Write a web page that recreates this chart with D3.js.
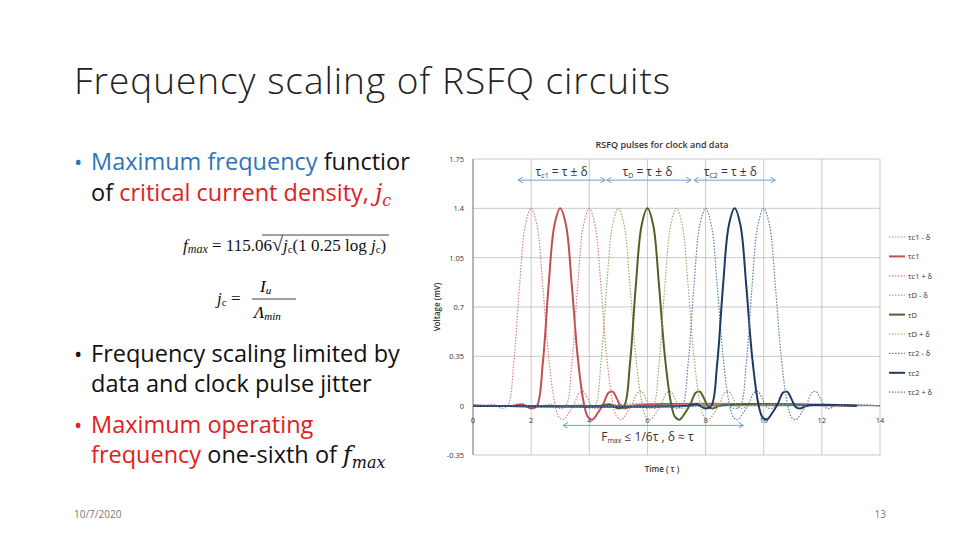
<!DOCTYPE html>
<html><head><meta charset="utf-8">
<script src="https://cdn.jsdelivr.net/npm/d3@7"></script>
<style>body{margin:0;background:#fff}svg{font-family:"Open Sans",sans-serif}</style>
</head><body><svg id="s" width="960" height="540"></svg>
<script>
// pulse profile: offset from peak (τ) and voltage (mV)
const pulseOffsets = [-1.6,-1.3,-1.0,-0.8,-0.6,-0.4,-0.2,0,0.2,0.4,0.6,0.8,0.95,1.1,1.3,1.5,1.65,1.8,1.95,2.1,2.25,2.5];
const pulseValues  = [0,0.01,-0.02,0,0.3,0.85,1.28,1.4,1.28,0.85,0.35,0.03,-0.08,-0.1,-0.05,0.02,0.09,0.1,0.05,-0.01,-0.02,0];
const seriesNames = ["τc1 - δ","τc1","τc1 + δ","τD - δ","τD","τD + δ","τc2 - δ","τc2","τc2 + δ"];
const seriesPeaks = [2,3,4,5,6,7,8,9,10];
const seriesColors = ["#d9827f","#c0504d","#d9827f","#98ad6b","#4f6228","#98ad6b","#5b7fae","#1f3864","#5b7fae"];
const seriesSolid = [false,true,false,false,true,false,false,true,false];
const xTicks = [0,2,4,6,8,10,12,14];
const yTicks = [-0.35,0,0.35,0.7,1.05,1.4,1.75];

const svg = d3.select("#s");
svg.append("text").attr("x",74).attr("y",94).attr("font-size",37).attr("fill","#222").attr("font-weight",300)
  .attr("textLength",596).text("Frequency scaling of RSFQ circuits");

// bullets
const bl = [
 {y:170,parts:[["Maximum frequency","#2e75b6"],[" functior","#111"]],dot:"#2e75b6"},
 {y:201,parts:[["of ","#111"],["critical current density, ","#e0201b"]],jc:true},
 {y:362,parts:[["Frequency scaling limited by","#111"]],dot:"#111"},
 {y:392,parts:[["data and clock pulse jitter","#111"]]},
 {y:433,parts:[["Maximum operating","#e0201b"]],dot:"#e0201b"},
 {y:463,parts:[["frequency","#e0201b"],[" one-sixth of ","#111"]],fmax:true}
];
bl.forEach(b=>{
  if(b.dot) svg.append("text").attr("x",74).attr("y",b.y).attr("font-size",22).attr("fill",b.dot).text("•");
  const t = svg.append("text").attr("x",91).attr("y",b.y).attr("font-size",23.5);
  b.parts.forEach(p=>t.append("tspan").attr("fill",p[1]).text(p[0]));
  if(b.jc) t.append("tspan").attr("fill","#e0201b").attr("font-family","DejaVu Serif").attr("font-style","italic").text("j").append("tspan").attr("font-size",16).attr("dy",5).text("c");
  if(b.fmax) t.append("tspan").attr("fill","#111").attr("font-family","DejaVu Serif").attr("font-style","italic").text("f").append("tspan").attr("font-size",16).attr("dy",5).text("max");
});
// formulas
const f1 = svg.append("text").attr("x",183).attr("y",251).attr("font-family","Liberation Serif").attr("font-size",17).attr("fill","#111");
f1.append("tspan").attr("font-style","italic").text("f");
f1.append("tspan").attr("font-style","italic").attr("font-size",12).attr("dy",2).text("max");
f1.append("tspan").attr("dy",-2).text(" = 115.06");
f1.append("tspan").text("√").attr("font-size",20);
f1.append("tspan").attr("font-style","italic").text("j");
f1.append("tspan").attr("font-size",11).attr("dy",2).text("c");
f1.append("tspan").attr("dy",-2).text("(1     0.25 log ");
f1.append("tspan").attr("font-style","italic").text("j");
f1.append("tspan").attr("font-size",11).attr("dy",2).text("c");
f1.append("tspan").attr("dy",-2).text(")");
svg.append("line").attr("x1",262).attr("x2",389).attr("y1",235).attr("y2",235).attr("stroke","#111").attr("stroke-width",0.8);
const f2 = svg.append("text").attr("x",217).attr("y",304).attr("font-family","Liberation Serif").attr("font-size",17).attr("fill","#111");
f2.append("tspan").attr("font-style","italic").text("j");
f2.append("tspan").attr("font-size",11).attr("dy",2).text("c");
f2.append("tspan").attr("dy",-2).text(" = ");
svg.append("text").attr("x",260).attr("y",292).attr("font-family","Liberation Serif").attr("font-style","italic").attr("font-size",17).text("I").append("tspan").attr("font-size",11).attr("dy",2).text("u");
svg.append("line").attr("x1",252).attr("x2",296).attr("y1",299).attr("y2",299).attr("stroke","#111").attr("stroke-width",0.8);
svg.append("text").attr("x",254).attr("y",318).attr("font-family","Liberation Serif").attr("font-style","italic").attr("font-size",17).text("Λ").append("tspan").attr("font-size",11).attr("dy",2).text("min");

// chart
const x = d3.scaleLinear().domain([0,14]).range([473,880]);
const y = d3.scaleLinear().domain([-0.35,1.75]).range([455,159]);
const g = svg.append("g");
g.append("g").selectAll("line").data(xTicks).join("line")
  .attr("x1",d=>x(d)).attr("x2",d=>x(d)).attr("y1",y(1.75)).attr("y2",y(-0.35)).attr("stroke","#bbb").attr("stroke-width",0.8);
g.append("g").selectAll("line").data(yTicks).join("line")
  .attr("x1",x(0)).attr("x2",x(14)).attr("y1",d=>y(d)).attr("y2",d=>y(d)).attr("stroke","#bbb").attr("stroke-width",0.8);
g.append("line").attr("x1",x(0)).attr("x2",x(14)).attr("y1",y(0)).attr("y2",y(0)).attr("stroke","#888");
g.append("line").attr("x1",x(0)).attr("x2",x(0)).attr("y1",y(1.75)).attr("y2",y(-0.35)).attr("stroke","#888");
g.append("g").selectAll("text").data(yTicks).join("text").attr("x",x(0)-9).attr("y",d=>y(d)+3)
  .attr("text-anchor","end").attr("font-size",7.5).attr("fill","#333").text(d=>d);
g.append("g").selectAll("text").data(xTicks).join("text").attr("x",d=>x(d)).attr("y",y(0)+17)
  .attr("text-anchor","middle").attr("font-size",7.5).attr("fill","#333").text(d=>d);
svg.append("text").attr("x",662).attr("y",148).attr("text-anchor","middle").attr("font-size",9).attr("font-weight",600).attr("fill","#333").text("RSFQ pulses  for clock and data");
svg.append("text").attr("x",662).attr("y",472).attr("text-anchor","middle").attr("font-size",8).attr("font-weight",600).attr("fill","#333").text("Time ( τ )");
svg.append("text").attr("transform",`translate(440,${y(0.7)}) rotate(-90)`).attr("text-anchor","middle").attr("font-size",8).attr("font-weight",600).attr("fill","#333").text("Voltage (mV)");

const line = d3.line().x(d=>x(d[0])).y(d=>y(d[1])).curve(d3.curveCatmullRom);
seriesPeaks.forEach((p,i)=>{
  const end = seriesSolid[i] ? 13.2 : 14;
  const pts = [[0,0]].concat(pulseOffsets.map((o,k)=>[p+o,pulseValues[k]]).filter(d=>d[0]>=0),[[end,0]]);
  g.append("path").datum(pts).attr("d",line).attr("fill","none").attr("stroke",seriesColors[i])
    .attr("stroke-width",seriesSolid[i]?2:1.2).attr("stroke-dasharray",seriesSolid[i]?null:"1.5,1.5");
});

// annotations
const defs = svg.append("defs");
defs.append("marker").attr("id","ah").attr("viewBox","0 0 6 6").attr("refX",5).attr("refY",3).attr("markerWidth",6).attr("markerHeight",6).attr("orient","auto-start-reverse")
  .append("path").attr("d","M0,0L5,3L0,6").attr("fill","none").attr("stroke","#6f9fcf");
const arrows = [[1.55,4.55,1.6],[4.6,7.5,1.6],[7.6,10.4,1.6],[3.1,9.3,-0.14]];
arrows.forEach(a=>svg.append("line").attr("x1",x(a[0])).attr("x2",x(a[1])).attr("y1",y(a[2])).attr("y2",y(a[2]))
  .attr("stroke","#6f9fcf").attr("marker-start","url(#ah)").attr("marker-end","url(#ah)"));
const lab = [[3.05,"τ","c1"],[6.0,"τ","D"],[8.85,"τ","C2"]];
lab.forEach(l=>{
  const t = svg.append("text").attr("x",x(l[0])).attr("y",y(1.63)).attr("text-anchor","middle").attr("font-size",12).attr("fill","#333");
  t.append("tspan").text(l[1]); t.append("tspan").attr("font-size",7).attr("dy",2).text(l[2]); t.append("tspan").attr("dy",-2).text(" = τ ± δ");
});
const ft = svg.append("text").attr("x",x(6)).attr("y",y(-0.25)).attr("text-anchor","middle").attr("font-size",12).attr("fill","#333");
ft.append("tspan").text("F"); ft.append("tspan").attr("font-size",7).attr("dy",2).text("max"); ft.append("tspan").attr("dy",-2).text(" ≤ 1/6τ , δ ≈ τ");

// legend
const lg = svg.append("g").selectAll("g").data(seriesNames).join("g").attr("transform",(d,i)=>`translate(889,${237+i*19.4})`);
lg.append("line").attr("x1",0).attr("x2",16).attr("stroke",(d,i)=>seriesColors[i]).attr("stroke-width",(d,i)=>seriesSolid[i]?2:1.2)
  .attr("stroke-dasharray",(d,i)=>seriesSolid[i]?null:"1.5,1.5");
lg.append("text").attr("x",19).attr("y",3).attr("font-size",7.5).attr("fill","#333").text(d=>d);

svg.append("text").attr("x",74).attr("y",518).attr("font-size",10).attr("fill","#777").text("10/7/2020");
svg.append("text").attr("x",886).attr("y",518).attr("text-anchor","end").attr("font-size",10).attr("fill","#777").text("13");
</script></body></html>
